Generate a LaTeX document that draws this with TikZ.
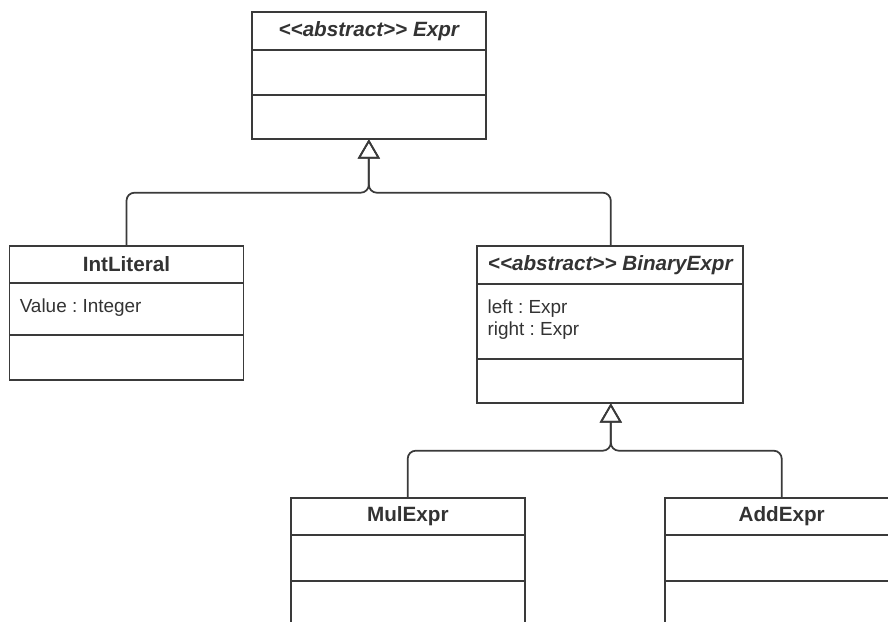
\documentclass[tikz,border=0pt]{standalone}
\usepackage{fontspec}
\setmainfont{Liberation Sans}
\usetikzlibrary{arrows.meta}
\definecolor{ln}{HTML}{3A3A3A}
\definecolor{tx}{HTML}{333333}
\frenchspacing
\tikzset{
  classbox/.style={draw=ln, line width=1.3pt, rectangle, inner sep=0pt, outer sep=0pt, anchor=north west},
  ttl/.style={text=tx, font=\fontsize{15.5}{18}\selectfont\bfseries, inner sep=0pt},
  attr/.style={text=tx, font=\fontsize{14.2}{17.3}\selectfont, inner sep=0pt, anchor=west, align=left},
  divider/.style={draw=ln, line width=1.3pt},
  gen/.style={draw=ln, line width=1.3pt, rounded corners=6pt, -{Triangle[open, length=14.5pt, width=16.5pt, line width=1.3pt]}}
}
\begin{document}
\begin{tikzpicture}[x=0.75pt, y=-0.75pt]
\clip (0,0) rectangle (888,621);
\fill[white] (0,0) rectangle (888,621);

% Expr
\node[classbox, minimum width=234.3*0.75pt, minimum height=127*0.75pt] (expr) at (251.7,12.3) {};
\node[ttl] (exprT) at (368.8,31) {\itshape <{}<abstract>{}> Expr};
\draw[divider] (251.7,50) -- (486,50);
\draw[divider] (251.7,95) -- (486,95);

% IntLiteral
\node[classbox, minimum width=234*0.75pt, minimum height=134.3*0.75pt] (intl) at (9.5,245.7) {};
\node[ttl] (intlT) at (126.5,264.5) {IntLiteral};
\draw[divider] (9.5,283.3) -- (243.5,283.3);
\draw[divider] (9.5,335) -- (243.5,335);
\node[attr] (intlA) at (19.5,307.5) {Value : Integer};

% BinaryExpr
\node[classbox, minimum width=266*0.75pt, minimum height=157.3*0.75pt] (bin) at (477.3,246) {};
\node[ttl] (binT) at (610.3,265) {\itshape <{}<abstract>{}> BinaryExpr};
\draw[divider] (477.3,284) -- (743.3,284);
\draw[divider] (477.3,358.7) -- (743.3,358.7);
\node[attr] (binA) at (487.3,308.3) {left : Expr};
\node[attr] (binB) at (487.3,331) {right : Expr};

% MulExpr
\node[classbox, minimum width=234.3*0.75pt, minimum height=160*0.75pt] (mul) at (290.7,497.7) {};
\node[ttl] (mulT) at (407.8,516.5) {MulExpr};
\draw[divider] (290.7,535.3) -- (525,535.3);
\draw[divider] (290.7,581) -- (525,581);

% AddExpr
\node[classbox, minimum width=260*0.75pt, minimum height=160*0.75pt] (add) at (665,497.7) {};
\node[ttl] (addT) at (781.7,516.5) {AddExpr};
\draw[divider] (665,535.3) -- (930,535.3);
\draw[divider] (665,581) -- (930,581);

% generalizations
\coordinate (j1) at (368.8,192.7);
\coordinate (j2) at (610.8,450.7);
\draw[gen] (intl.north west) ++(117,0) |- (j1) -- (expr.south);
\draw[gen] (bin.north west) ++(133.5,0) |- (j1) -- (expr.south);
\draw[gen] (mul.north west) ++(117,0) |- (j2) -- (j2 |- bin.south);
\draw[gen] (add.north west) ++(116.7,0) |- (j2) -- (j2 |- bin.south);
\end{tikzpicture}
\end{document}
